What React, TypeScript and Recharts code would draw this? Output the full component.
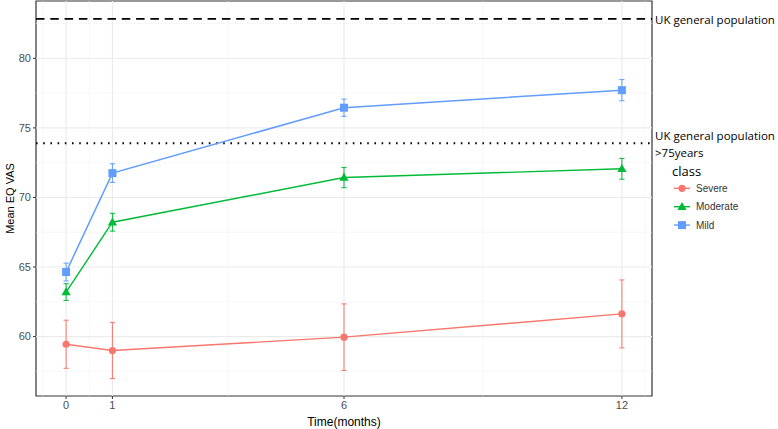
import React from 'react';
import { ComposedChart, Line, XAxis, YAxis, ReferenceLine, ReferenceArea, ErrorBar, Legend } from 'recharts';

// mean EQ VAS by class, with +/- error half-widths
const times = [0, 1, 6, 12];
const severe = [59.45, 59.0, 59.96, 61.63];
const severeErr = [1.73, 2.02, 2.39, 2.44];
const moderate = [63.2, 68.22, 71.43, 72.06];
const moderateErr = [0.6, 0.64, 0.73, 0.75];
const mild = [64.64, 71.75, 76.45, 77.71];
const mildErr = [0.64, 0.67, 0.62, 0.76];

const ukGeneral = 82.83;
const ukOver75 = 73.9;

const xTicks = [0, 1, 6, 12];
const xMinor = [-0.5, 0.5, 3.5, 9, 12.5];
const yTicks = [60, 65, 70, 75, 80];
const yMinor = [57.5, 62.5, 67.5, 72.5, 77.5, 82.5];

const xDomain: [number, number] = [-0.65, 12.65];
const yDomain: [number, number] = [55.73, 84.12];

const RED = '#F8766D';
const GREEN = '#00BA38';
const BLUE = '#619CFF';

const data = times.map((t, i) => ({
  time: t,
  severe: severe[i],
  severeErr: severeErr[i],
  moderate: moderate[i],
  moderateErr: moderateErr[i],
  mild: mild[i],
  mildErr: mildErr[i],
}));

const CircleDot = (props: any) => {
  const { cx, cy, index } = props;
  if (cx == null || cy == null) return null;
  return <circle key={`c-${index}`} cx={cx} cy={cy} r={3.6} fill={RED} />;
};

const TriangleDot = (props: any) => {
  const { cx, cy, index } = props;
  if (cx == null || cy == null) return null;
  return (
    <path
      key={`t-${index}`}
      d={`M${cx},${cy - 4.8} L${cx + 4.6},${cy + 3.2} L${cx - 4.6},${cy + 3.2} Z`}
      fill={GREEN}
    />
  );
};

const SquareDot = (props: any) => {
  const { cx, cy, index } = props;
  if (cx == null || cy == null) return null;
  return <rect key={`s-${index}`} x={cx - 4} y={cy - 4} width={8} height={8} fill={BLUE} />;
};

const AnnotLabel = (props: any) => {
  const { viewBox, lines } = props;
  const x = viewBox.x + viewBox.width + 3;
  const y = viewBox.y;
  const top = y - ((lines.length - 1) * 17) / 2;
  return (
    <text
      x={x}
      y={top}
      fill="#000"
      fontSize={11.5}
      fontFamily="'Open Sans', sans-serif"
      dominantBaseline="central"
    >
      {lines.map((l: string, i: number) => (
        <tspan key={i} x={x} y={top + i * 17}>
          {l}
        </tspan>
      ))}
    </text>
  );
};

const legendItems = [
  { name: 'Severe', color: RED, shape: 'circle' },
  { name: 'Moderate', color: GREEN, shape: 'triangle' },
  { name: 'Mild', color: BLUE, shape: 'square' },
];

const ClassLegend = () => (
  <svg width={110} height={80}>
    <text x={6} y={11} fontSize={13} fontFamily="'Open Sans', sans-serif" dominantBaseline="central" fill="#000">
      class
    </text>
    {legendItems.map((it, i) => {
      const cy = 28.3 + i * 18.4;
      const cx = 16;
      return (
        <g key={it.name}>
          <line x1={8} x2={24} y1={cy} y2={cy} stroke={it.color} strokeWidth={1.4} />
          {it.shape === 'circle' && <circle cx={cx} cy={cy} r={3.6} fill={it.color} />}
          {it.shape === 'triangle' && (
            <path d={`M${cx},${cy - 4.8} L${cx + 4.6},${cy + 3.2} L${cx - 4.6},${cy + 3.2} Z`} fill={it.color} />
          )}
          {it.shape === 'square' && <rect x={cx - 4} y={cy - 4} width={8} height={8} fill={it.color} />}
          <text
            x={30}
            y={cy}
            fontSize={10}
            fontFamily="'Liberation Sans', Arial, sans-serif"
            dominantBaseline="central"
            fill="#333"
          >
            {it.name}
          </text>
        </g>
      );
    })}
  </svg>
);

export default function App() {
  return (
    <div style={{ position: 'absolute', left: 0, top: 0, background: '#fff' }}>
      <ComposedChart
        width={778}
        height={429}
        data={data}
        margin={{ top: 1, right: 126, bottom: 0, left: 0 }}
        style={{ fontFamily: "'Liberation Sans', Arial, sans-serif" }}
      >
        <XAxis
          dataKey="time"
          type="number"
          domain={xDomain}
          ticks={xTicks}
          allowDataOverflow
          height={33}
          axisLine={false}
          tickSize={3}
          tickMargin={2}
          tickLine={{ stroke: '#333' }}
          tick={{ fill: '#4D4D4D', fontSize: 11 }}
          label={{ value: 'Time(months)', position: 'insideBottom', offset: 3, fill: '#000', fontSize: 12 }}
        />
        <YAxis
          type="number"
          domain={yDomain}
          ticks={yTicks}
          allowDataOverflow
          width={36}
          axisLine={false}
          tickSize={3}
          tickMargin={2}
          tickLine={{ stroke: '#333' }}
          tick={{ fill: '#4D4D4D', fontSize: 11 }}
          label={{
            value: 'Mean EQ VAS',
            angle: -90,
            position: 'insideLeft',
            offset: 10,
            fill: '#000',
            fontSize: 11,
            style: { textAnchor: 'middle' },
          }}
        />

        {yMinor.map((v) => (
          <ReferenceLine key={`ym-${v}`} y={v} stroke="#F2F2F2" strokeWidth={0.6} />
        ))}
        {xMinor.map((v) => (
          <ReferenceLine key={`xm-${v}`} x={v} stroke="#F2F2F2" strokeWidth={0.6} />
        ))}
        {yTicks.map((v) => (
          <ReferenceLine key={`yM-${v}`} y={v} stroke="#EBEBEB" strokeWidth={1.1} />
        ))}
        {xTicks.map((v) => (
          <ReferenceLine key={`xM-${v}`} x={v} stroke="#EBEBEB" strokeWidth={1.1} />
        ))}

        <ReferenceLine
          y={ukGeneral}
          stroke="#000"
          strokeWidth={1.8}
          strokeDasharray="8.5 5.8"
          label={<AnnotLabel lines={['UK general population']} />}
        />
        <ReferenceLine
          y={ukOver75}
          stroke="#000"
          strokeWidth={2}
          strokeDasharray="1.6 5.6"
          label={<AnnotLabel lines={['UK general population', '>75years']} />}
        />

        <Line
          dataKey="severe"
          stroke={RED}
          strokeWidth={1.4}
          dot={CircleDot}
          activeDot={false}
          isAnimationActive={false}
        >
          <ErrorBar dataKey="severeErr" stroke={RED} strokeWidth={1} width={2.6} />
        </Line>
        <Line
          dataKey="moderate"
          stroke={GREEN}
          strokeWidth={1.4}
          dot={TriangleDot}
          activeDot={false}
          isAnimationActive={false}
        >
          <ErrorBar dataKey="moderateErr" stroke={GREEN} strokeWidth={1} width={2.6} />
        </Line>
        <Line
          dataKey="mild"
          stroke={BLUE}
          strokeWidth={1.5}
          dot={SquareDot}
          activeDot={false}
          isAnimationActive={false}
        >
          <ErrorBar dataKey="mildErr" stroke={BLUE} strokeWidth={1} width={2.6} />
        </Line>

        <ReferenceArea
          x1={xDomain[0]}
          x2={xDomain[1]}
          y1={yDomain[0]}
          y2={yDomain[1]}
          fill="none"
          fillOpacity={0}
          stroke="#333"
          strokeWidth={1.2}
        />

        <Legend
          layout="vertical"
          align="center"
          verticalAlign="middle"
          content={() => <ClassLegend />}
          wrapperStyle={{ left: 666, top: 160, width: 110, height: 80 }}
        />
      </ComposedChart>
    </div>
  );
}
